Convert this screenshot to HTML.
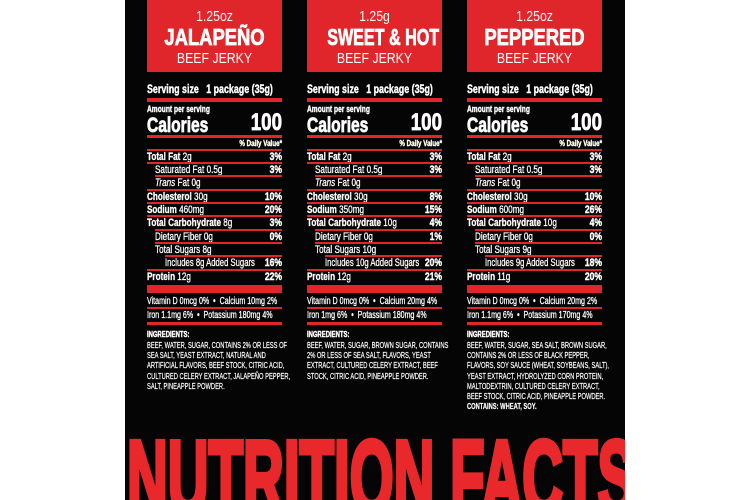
<!DOCTYPE html>
<html><head><meta charset="utf-8"><style>
body{margin:0;width:750px;height:500px;background:#fff;position:relative;overflow:hidden;font-family:"Liberation Sans",sans-serif;color:#fff}
#bk{position:absolute;left:125px;top:0;width:500px;height:500px;background:#050505;overflow:hidden}
.a{position:absolute;white-space:nowrap;line-height:1}
.l{transform-origin:left center;transform:scaleX(.74)}
.r{transform-origin:right center;transform:scaleX(.78);text-align:right}
.c{transform-origin:center center;transform:scaleX(.82);text-align:center}
.ln{position:absolute;background:#e0262a}
.b{font-weight:bold;-webkit-text-stroke:0.4px #fff}
</style></head><body>
<div id="bk">
<div class="a" style="left:2px;top:426px;font-size:104px;font-weight:bold;color:#e8282b;-webkit-text-stroke:5px #e8282b;transform:scaleX(.543);transform-origin:left top">NUTRITION FACTS</div>
</div>
<script>
const P=[
{x:147,t:"1.25oz",n:"JALAPEÑO",ns:.8,fat:"2g",fp:"3%",sf:"0.5g",sp:"3%",ch:"30g",cp:"10%",so:"460mg",sop:"20%",cb:"8g",cbp:"3%",df:"0%",ts:"8g",as:"8g",asp:"16%",pr:"12g",prp:"22%",ca:"10mg 2%",fe:"1.1mg 6%",k:"180mg 4%",ing:["BEEF, WATER, SUGAR, CONTAINS 2% OR LESS OF","SEA SALT, YEAST EXTRACT, NATURAL AND","ARTIFICIAL FLAVORS, BEEF STOCK, CITRIC ACID,","CULTURED CELERY EXTRACT, JALAPEÑO PEPPER,","SALT, PINEAPPLE POWDER."]},
{x:307,t:"1.25g",n:"SWEET &amp; HOT",ns:.7,fat:"2g",fp:"3%",sf:"0.5g",sp:"3%",ch:"30g",cp:"8%",so:"350mg",sop:"15%",cb:"10g",cbp:"4%",df:"1%",ts:"10g",as:"10g",asp:"20%",pr:"12g",prp:"21%",ca:"20mg 4%",fe:"1mg 6%",k:"180mg 4%",ing:["BEEF, WATER, SUGAR, BROWN SUGAR, CONTAINS","2% OR LESS OF SEA SALT, FLAVORS, YEAST","EXTRACT, CULTURED CELERY EXTRACT, BEEF","STOCK, CITRIC ACID, PINEAPPLE POWDER."]},
{x:467,t:"1.25oz",n:"PEPPERED",ns:.8,fat:"2g",fp:"3%",sf:"0.5g",sp:"3%",ch:"30g",cp:"10%",so:"600mg",sop:"26%",cb:"10g",cbp:"4%",df:"0%",ts:"9g",as:"9g",asp:"18%",pr:"11g",prp:"20%",ca:"20mg 2%",fe:"1.1mg 6%",k:"170mg 4%",ing:["BEEF, WATER, SUGAR, SEA SALT, BROWN SUGAR,","CONTAINS 2% OR LESS OF BLACK PEPPER,","FLAVORS, SOY SAUCE (WHEAT, SOYBEANS, SALT),","YEAST EXTRACT, HYDROLYZED CORN PROTEIN,","MALTODEXTRIN, CULTURED CELERY EXTRACT,","BEEF STOCK, CITRIC ACID, PINEAPPLE POWDER.","<b>CONTAINS: WHEAT, SOY.</b>"]}];
let h="";
const W=135;
function t(x,y,s,txt,cls,extra){h+=`<div class="a ${cls}" style="left:${x}px;top:${y}px;font-size:${s}px;${extra||""}">${txt}</div>`}
function ln(x,y,w,hh){h+=`<div class="ln" style="left:${x}px;top:${y}px;width:${w}px;height:${hh}px"></div>`}
for(const p of P){
 const x=p.x;
 ln(x,0,W,72);
 t(x,9,15,p.t,"c",`width:${W}px`);
 t(x,26,23,p.n,"c b",`width:${W}px;-webkit-text-stroke:0.8px #fff;transform:scaleX(${p.ns})`);
 t(x,51,15,"BEEF JERKY","c",`width:${W}px`);
 t(x,83,12,"Serving size&nbsp;&nbsp;&nbsp;1 package (35g)","l b");
 ln(x,98,W,4);
 t(x,105,9,"Amount per serving","l b");
 t(x,115,21,"Calories","l b",`-webkit-text-stroke:0.8px #fff`);
 t(x,111,24,"100","r b",`width:${W}px;-webkit-text-stroke:0.8px #fff`);
 ln(x,135,W,3);
 t(x,140,8,"% Daily Value*","r b",`width:${W}px`);
 const rows=[
  [152,0,"<b>Total Fat</b> "+p.fat,p.fp],
  [165,8,"Saturated Fat "+p.sf,p.sp],
  [178,8,"<i>Trans</i> Fat 0g",""],
  [192,0,"<b>Cholesterol</b> "+p.ch,p.cp],
  [205,0,"<b>Sodium</b> "+p.so,p.sop],
  [218,0,"<b>Total Carbohydrate</b> "+p.cb,p.cbp],
  [232,8,"Dietary Fiber 0g",p.df],
  [245,8,"Total Sugars "+p.ts,""],
  [258,18,"Includes "+p.as+" Added Sugars",p.asp],
  [272,0,"<b>Protein</b> "+p.pr,p.prp]];
 for(const r of rows){
  const off=(r[1]&&r[0]!=165)?r[1]:0;
  ln(x+off,r[0]-3,W-off,2);
  t(x+r[1],r[0],11,r[2],"l",(r[1]==18?"transform:scaleX(.7);":"")+"-webkit-text-stroke:0.3px #fff");
  if(r[3])t(x,r[0],11,r[3],"r b",`width:${W}px`);
 }
 ln(x,285,W,8);
 t(x,297,10,"Vitamin D 0mcg 0% &nbsp;•&nbsp; Calcium "+p.ca,"l","transform:scaleX(.71);-webkit-text-stroke:0.3px #fff");
 ln(x,307,W,2);
 t(x,311,10,"Iron "+p.fe+" &nbsp;•&nbsp; Potassium "+p.k,"l","transform:scaleX(.71);-webkit-text-stroke:0.3px #fff");
 ln(x,322,W,3);
 t(x,331,8,"INGREDIENTS:","l b");
 p.ing.forEach((s,i)=>t(x,342+i*10.2,8,s,"l","transform:scaleX(.72);-webkit-text-stroke:0.2px #fff"));
}
document.body.insertAdjacentHTML("beforeend",h);
</script>
</body></html>
